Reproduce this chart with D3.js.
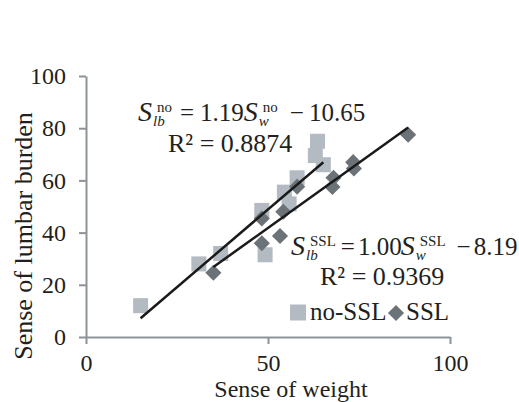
<!DOCTYPE html>
<html>
<head>
<meta charset="utf-8">
<script src="https://cdn.jsdelivr.net/npm/d3@7"></script>
<style>
  body { margin: 0; background: #fff; }
  svg text { font-family: "Liberation Serif", "Times New Roman", serif; fill: #231f20; }
</style>
</head>
<body>
<script>
// data
var noSslX = [15, 31, 37, 48.3, 49.2, 54.5, 55.8, 58, 63, 63.6, 65.2];
var noSslY = [12, 28, 32, 48.5, 31.5, 55.5, 51, 61, 69.5, 75, 66];
var sslX = [35, 48.3, 48.3, 53.3, 54.2, 58, 67.7, 68, 73.4, 73.6, 88.5];
var sslY = [24.6, 35.9, 45.4, 38.7, 48, 57.6, 57.5, 61, 67, 64.6, 77.5];
var seriesNames = ["no-SSL", "SSL"];
var slopes = [1.19, 1.00];
var intercepts = [-10.65, -8.19];
var r2 = ["0.8874", "0.9369"];
var xTicks = [0, 50, 100];
var yTicks = [0, 20, 40, 60, 80, 100];

var width = 519, height = 402;
var lightGray = "#b3bac2", darkGray = "#6b7378", axisGray = "#8c9399";

var svg = d3.select("body").append("svg")
    .attr("width", width)
    .attr("height", height);

var x = d3.scaleLinear().domain([0, 100]).range([86, 450]);
var y = d3.scaleLinear().domain([0, 100]).range([337, 76]);

// axes
var yAxis = svg.append("g")
    .attr("transform", "translate(" + x(0) + ",0)")
    .call(d3.axisLeft(y).tickValues(yTicks).tickSize(7).tickSizeOuter(0).tickPadding(13));
var xAxis = svg.append("g")
    .attr("transform", "translate(0," + y(0) + ")")
    .call(d3.axisBottom(x).tickValues(xTicks).tickSize(7).tickSizeOuter(0).tickPadding(10));

[xAxis, yAxis].forEach(function(a) {
  a.selectAll("path, line").attr("stroke", axisGray).attr("stroke-width", 2);
  a.selectAll("text").style("font-size", "24px").attr("fill", "#231f20");
});

svg.append("text")
    .attr("x", 291).attr("y", 397)
    .attr("text-anchor", "middle")
    .style("font-size", "24px")
    .text("Sense of weight");

svg.append("text")
    .attr("transform", "translate(32,236) rotate(-90)")
    .attr("text-anchor", "middle")
    .style("font-size", "26px")
    .text("Sense of lumbar burden");

// points
var noSsl = noSslX.map(function(v, i) { return [v, noSslY[i]]; });
var ssl = sslX.map(function(v, i) { return [v, sslY[i]]; });

svg.selectAll(".sq")
    .data(noSsl)
    .enter().append("rect")
    .attr("class", "sq")
    .attr("x", function(d) { return x(d[0]) - 7.5; })
    .attr("y", function(d) { return y(d[1]) - 7.5; })
    .attr("width", 15)
    .attr("height", 15)
    .attr("fill", lightGray);

var diamond = d3.symbol().type(d3.symbolSquare).size(130);
svg.selectAll(".dm")
    .data(ssl)
    .enter().append("path")
    .attr("class", "dm")
    .attr("d", diamond)
    .attr("transform", function(d) { return "translate(" + x(d[0]) + "," + y(d[1]) + ") rotate(45)"; })
    .attr("fill", darkGray);

// trend lines over each series' x range
[noSslX, sslX].forEach(function(xs, i) {
  var ext = d3.extent(xs);
  var pts = ext.map(function(v) { return [v, slopes[i] * v + intercepts[i]]; });
  svg.append("path")
      .attr("d", d3.line().x(function(d) { return x(d[0]); }).y(function(d) { return y(d[1]); })(pts))
      .attr("stroke", "#1a1a1a")
      .attr("stroke-width", 2.5)
      .attr("fill", "none");
});

// equation with stacked sub/superscripts; gaps = spacing after each piece
function equation(x0, y0, sup, a, b, gaps) {
  var g = svg.append("g");
  var cx = x0;
  function piece(t, size, italic, dx, dy) {
    var el = g.append("text")
        .attr("x", cx + (dx || 0)).attr("y", y0 + (dy || 0))
        .style("font-size", size + "px")
        .style("font-style", italic ? "italic" : "normal")
        .text(t);
    return el.node().getComputedTextLength() + (dx || 0);
  }
  function sym(sub) {
    cx += piece("S", 28, true);
    var w1 = piece(sub, 15, true, 1, 5);
    var w2 = piece(sup, 15, false, 5, -9);
    cx += Math.max(w1, w2);
  }
  sym("lb");
  cx += gaps[0];
  cx += piece("=", 25) + gaps[1];
  cx += piece(a.toFixed(2), 25) + gaps[2];
  sym("w");
  cx += gaps[3];
  cx += piece("\u2212", 25) + gaps[4];
  piece(b, 25);
}

equation(138, 121, "no", slopes[0], Math.abs(intercepts[0]).toFixed(2), [8, 6, 0, 12, 5]);
svg.append("text").attr("x", 168).attr("y", 152).style("font-size", "26px").text("R\u00b2 = " + r2[0]);

equation(291, 255, "SSL", slopes[1], Math.abs(intercepts[1]).toFixed(2), [5, 3, -1, 11, 3]);
svg.append("text").attr("x", 320).attr("y", 285).style("font-size", "26px").text("R\u00b2 = " + r2[1]);

// legend
var lg = svg.append("g").attr("transform", "translate(290,312)");
lg.append("rect").attr("x", 0).attr("y", -7.5).attr("width", 16).attr("height", 16).attr("fill", lightGray);
lg.append("text").attr("x", 20).attr("y", 8).style("font-size", "25px").text(seriesNames[0]);
lg.append("path").attr("d", diamond).attr("transform", "translate(106,1) rotate(45)").attr("fill", darkGray);
lg.append("text").attr("x", 116).attr("y", 8).style("font-size", "25px").text(seriesNames[1]);
</script>
</body>
</html>
